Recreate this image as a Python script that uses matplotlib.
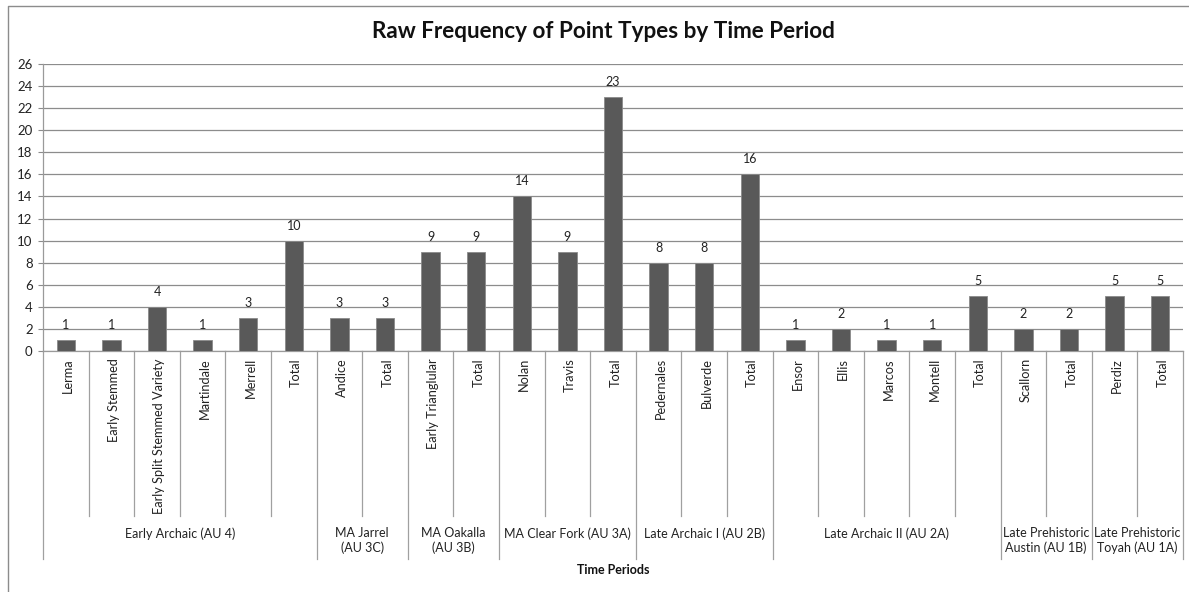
import matplotlib.pyplot as plt
from matplotlib.lines import Line2D
from matplotlib.transforms import blended_transform_factory

plt.rcParams['font.family'] = ['Lato', 'DejaVu Sans']

# point types and counts, grouped by time period
groups = [
    'Early Archaic (AU 4)',
    'MA Jarrel\n(AU 3C)',
    'MA Oakalla\n(AU 3B)',
    'MA Clear Fork (AU 3A)',
    'Late Archaic I (AU 2B)',
    'Late Archaic II (AU 2A)',
    'Late Prehistoric\nAustin (AU 1B)',
    'Late Prehistoric\nToyah (AU 1A)',
]
types = [
    ['Lerma', 'Early Stemmed', 'Early Split Stemmed Variety', 'Martindale', 'Merrell', 'Total'],
    ['Andice', 'Total'],
    ['Early Trianglular', 'Total'],
    ['Nolan', 'Travis', 'Total'],
    ['Pedernales', 'Bulverde', 'Total'],
    ['Ensor', 'Ellis', 'Marcos', 'Montell', 'Total'],
    ['Scallorn', 'Total'],
    ['Perdiz', 'Total'],
]
counts = [
    [1, 1, 4, 1, 3, 10],
    [3, 3],
    [9, 9],
    [14, 9, 23],
    [8, 8, 16],
    [1, 2, 1, 1, 5],
    [2, 2],
    [5, 5],
]

labels = [t for g in types for t in g]
values = [v for g in counts for v in g]
x = list(range(len(values)))

W, H = 1189, 592
fig = plt.figure(figsize=(W / 100, H / 100), dpi=100)
ax = fig.add_axes([43 / W, (H - 351) / H, (1183 - 43) / W, (351 - 64) / H])

bars = ax.bar(x, values, width=0.4, color='#595959', edgecolor='#8a8a8a', linewidth=0.6, zorder=3)
for xi, v in zip(x, values):
    ax.annotate(str(v), (xi, v), xytext=(0, 6.5), textcoords='offset points',
                ha='center', va='bottom', fontsize=9, color='#222222')

ax.set_xlim(-0.5, len(values) - 0.5)
ax.set_ylim(0, 26)
ax.set_yticks(range(0, 27, 2))
ax.set_xticks([])
ax.tick_params(axis='y', length=3.5, width=0.8, color='#8c8c8c', pad=4, labelsize=9.5, labelcolor='#222222')
ax.grid(axis='y', color='#8c8c8c', linewidth=0.9, zorder=0)
for s in ['top', 'right']:
    ax.spines[s].set_visible(False)
for s in ['left', 'bottom']:
    ax.spines[s].set_color('#9a9a9a')
    ax.spines[s].set_linewidth(0.9)

# two-level category axis below the bars
tr = blended_transform_factory(ax.transData, fig.transFigure)
y_axis = (H - 351) / H
y_inner = (H - 516) / H
y_outer = (H - 559) / H

def sep(xpos, y_end):
    ax.add_line(Line2D([xpos, xpos], [y_axis, y_end], transform=tr, color='#a0a0a0',
                       linewidth=0.9, clip_on=False))

for xi, lab in zip(x, labels):
    ax.text(xi + 0.05, (H - 358) / H, lab, transform=tr, rotation=90, ha='center', va='top',
            fontsize=9.2, color='#222222')

start = 0
sep(-0.5, y_outer)
for g, names in zip(groups, types):
    end = start + len(names)
    for k in range(start + 1, end):
        sep(k - 0.5, y_inner)
    sep(end - 0.5, y_outer)
    ax.text((start + end - 1) / 2, (H - 527) / H, g, transform=tr, ha='center', va='top',
            fontsize=9, color='#222222', linespacing=1.2)
    start = end

fig.text((43 + 1183) / 2 / W, (H - 570) / H, 'Time Periods', ha='center', va='center',
         fontsize=9, fontweight='bold', color='#111111')

fig.text(603 / W, (H - 32) / H, 'Raw Frequency of Point Types by Time Period',
         ha='center', va='center', fontsize=16.2, fontweight='bold', color='#111111')

# chart frame
fig.add_artist(Line2D([7.5 / W, 7.5 / W, 1], [0, (H - 5.5) / H, (H - 5.5) / H],
                      transform=fig.transFigure, color='#8c8c8c', linewidth=1.0))

fig.savefig('out.png', dpi=100, facecolor='white')
